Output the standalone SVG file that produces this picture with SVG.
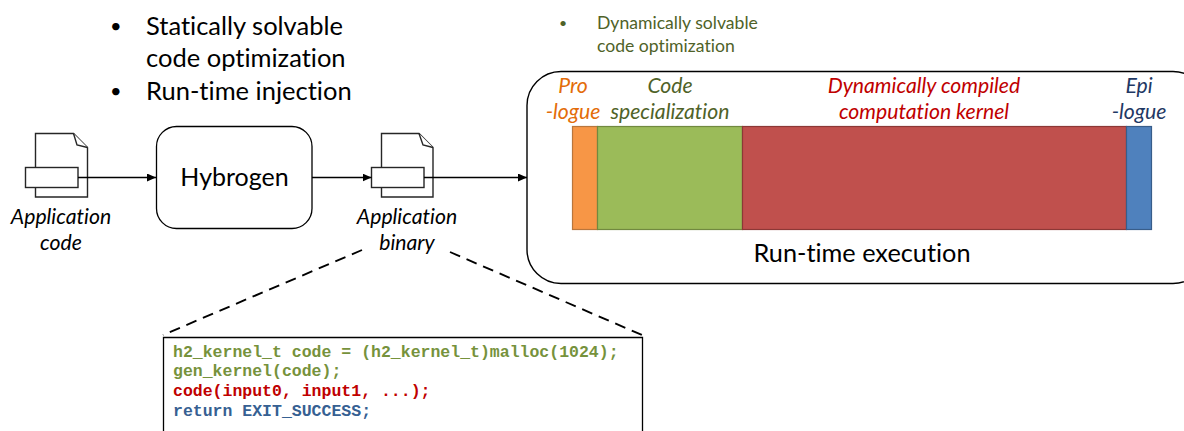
<svg xmlns="http://www.w3.org/2000/svg" width="1184" height="431" viewBox="0 0 1184 431">
<style>
text{font-family:Lato,"Open Sans",sans-serif;fill:#000;font-variant-ligatures:none}
.b{font-size:25.500px}
.dot{font-size:20px}
.s{font-size:17.600px;fill:#4f6228}
.i{font-size:21.200px;font-style:italic}
.m{font-family:"Liberation Mono",monospace;font-weight:bold;font-size:16.500px}
.ln{fill:none;stroke:#000;stroke-width:1.3}
.dash{fill:none;stroke:#000;stroke-width:1.9;stroke-dasharray:11 7}
.doc{fill:#fff;stroke:#262626;stroke-width:1.4}
.seg{stroke-width:1.2}
.mid{text-anchor:middle}
</style>
<defs>
<marker id="ah" markerUnits="userSpaceOnUse" markerWidth="9" markerHeight="8" refX="9" refY="4" orient="auto"><path d="M0 0L9 4L0 8Z" fill="#000"/></marker>
</defs>
<g id="bullets-left">
<text class="dot" x="110" y="33">•</text>
<text class="b" x="146" y="35">Statically solvable</text>
<text class="b" x="146" y="67">code optimization</text>
<text class="dot" x="110" y="98">•</text>
<text class="b" x="146" y="100">Run-time injection</text>
</g>
<g id="bullets-right">
<text class="s" x="559" y="28" style="font-size:14px">•</text>
<text class="s" x="597" y="29">Dynamically solvable</text>
<text class="s" x="597" y="52">code optimization</text>
</g>
<g id="application-code">
<path class="doc" d="M35.500 133.500H73.500L87.500 147.500V197H35.500Z"/>
<path class="doc" d="M73.500 133.500L77 145L87.500 147.500"/>
<rect class="doc" x="25.500" y="167.500" width="52.500" height="20"/>
<text class="i mid" x="61" y="224">Application</text>
<text class="i mid" x="61" y="250">code</text>
</g>
<g id="hybrogen">
<rect x="156.500" y="126.500" width="155.500" height="102" rx="20" fill="#fff" stroke="#000" stroke-width="1.3"/>
<text class="mid" x="234.500" y="186" font-size="25">Hybrogen</text>
</g>
<g id="application-binary">
<path class="doc" d="M381.500 133.500H419L433 147.500V197H381.500Z"/>
<path class="doc" d="M419 133.500L423 145L433 147.500"/>
<rect class="doc" x="371.500" y="167.500" width="52.500" height="20"/>
<text class="i mid" x="407" y="224">Application</text>
<text class="i mid" x="407" y="250">binary</text>
</g>
<g id="run-time-execution">
<rect x="527" y="71.500" width="680" height="212" rx="34" fill="#fff" stroke="#000" stroke-width="1.4"/>
<rect class="seg" x="572.500" y="126.500" width="25" height="103" fill="#f79646" stroke="#b9763c"/>
<rect class="seg" x="597.500" y="126.500" width="145" height="103" fill="#9bbb59" stroke="#71893f"/>
<rect class="seg" x="742.500" y="126.500" width="384" height="103" fill="#c0504d" stroke="#8c3836"/>
<rect class="seg" x="1126.500" y="126.500" width="25" height="103" fill="#4f81bd" stroke="#385d8a"/>
<text class="i mid" x="573" y="93" style="fill:#e36c09">Pro</text>
<text class="i mid" x="573" y="119" style="fill:#e36c09">-logue</text>
<text class="i mid" x="670" y="93" style="fill:#4f6228">Code</text>
<text class="i mid" x="670" y="119" style="fill:#4f6228">specialization</text>
<text class="i mid" x="924" y="93" style="fill:#c00000">Dynamically compiled</text>
<text class="i mid" x="924" y="119" style="fill:#c00000">computation kernel</text>
<text class="i mid" x="1139" y="93" style="fill:#1f3864">Epi</text>
<text class="i mid" x="1139" y="119" style="fill:#1f3864">-logue</text>
<text class="mid" x="862" y="262" font-size="25.300">Run-time execution</text>
</g>
<g id="code-listing">
<path d="M163.500 431V337.500H642.500V431" fill="#fff" stroke="#000" stroke-width="1.3"/>
<text class="m" x="173" y="356.500" style="fill:#76923c">h2_kernel_t code = (h2_kernel_t)malloc(1024);</text>
<text class="m" x="173" y="376" style="fill:#76923c">gen_kernel(code);</text>
<text class="m" x="173" y="395.500" style="fill:#c00000">code(input0, input1, ...);</text>
<text class="m" x="173" y="415.500" style="fill:#366092">return EXIT_SUCCESS;</text>
</g>
<g id="connectors">
<path class="ln" d="M78 177.500H156" marker-end="url(#ah)"/>
<path class="ln" d="M312 177.500H371.500" marker-end="url(#ah)"/>
<path class="ln" d="M424 177.500H527" marker-end="url(#ah)"/>
<path class="dash" d="M362 250L163 335"/>
<path class="dash" d="M450 252L642 335"/>
</g>
</svg>
